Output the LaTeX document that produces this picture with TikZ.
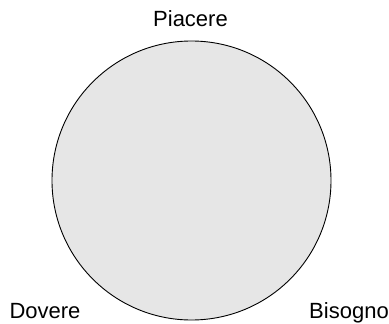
\documentclass[tikz,border=0pt]{standalone}
\usepackage{fontspec}
\setmainfont{Liberation Sans}
\definecolor{Disk}{HTML}{E6E6E6}
\begin{document}
\begin{tikzpicture}[x=1pt,y=-1pt,font=\fontsize{22}{26}\selectfont]
  \tikzstyle{vertex}=[inner sep=0pt,anchor=base]
  \useasboundingbox (0,0) rectangle (389,324);
  \node[draw,line width=0.9pt,circle,fill=Disk,minimum size=279pt,inner sep=0pt] (disk) at (191.5,180.5) {};
  \node[vertex] (piacere) at (190.5,27) {Piacere};
  \node[vertex] (dovere)  at (45,318) {Dovere};
  \node[vertex] (bisogno) at (349,318) {Bisogno};
\end{tikzpicture}
\end{document}
